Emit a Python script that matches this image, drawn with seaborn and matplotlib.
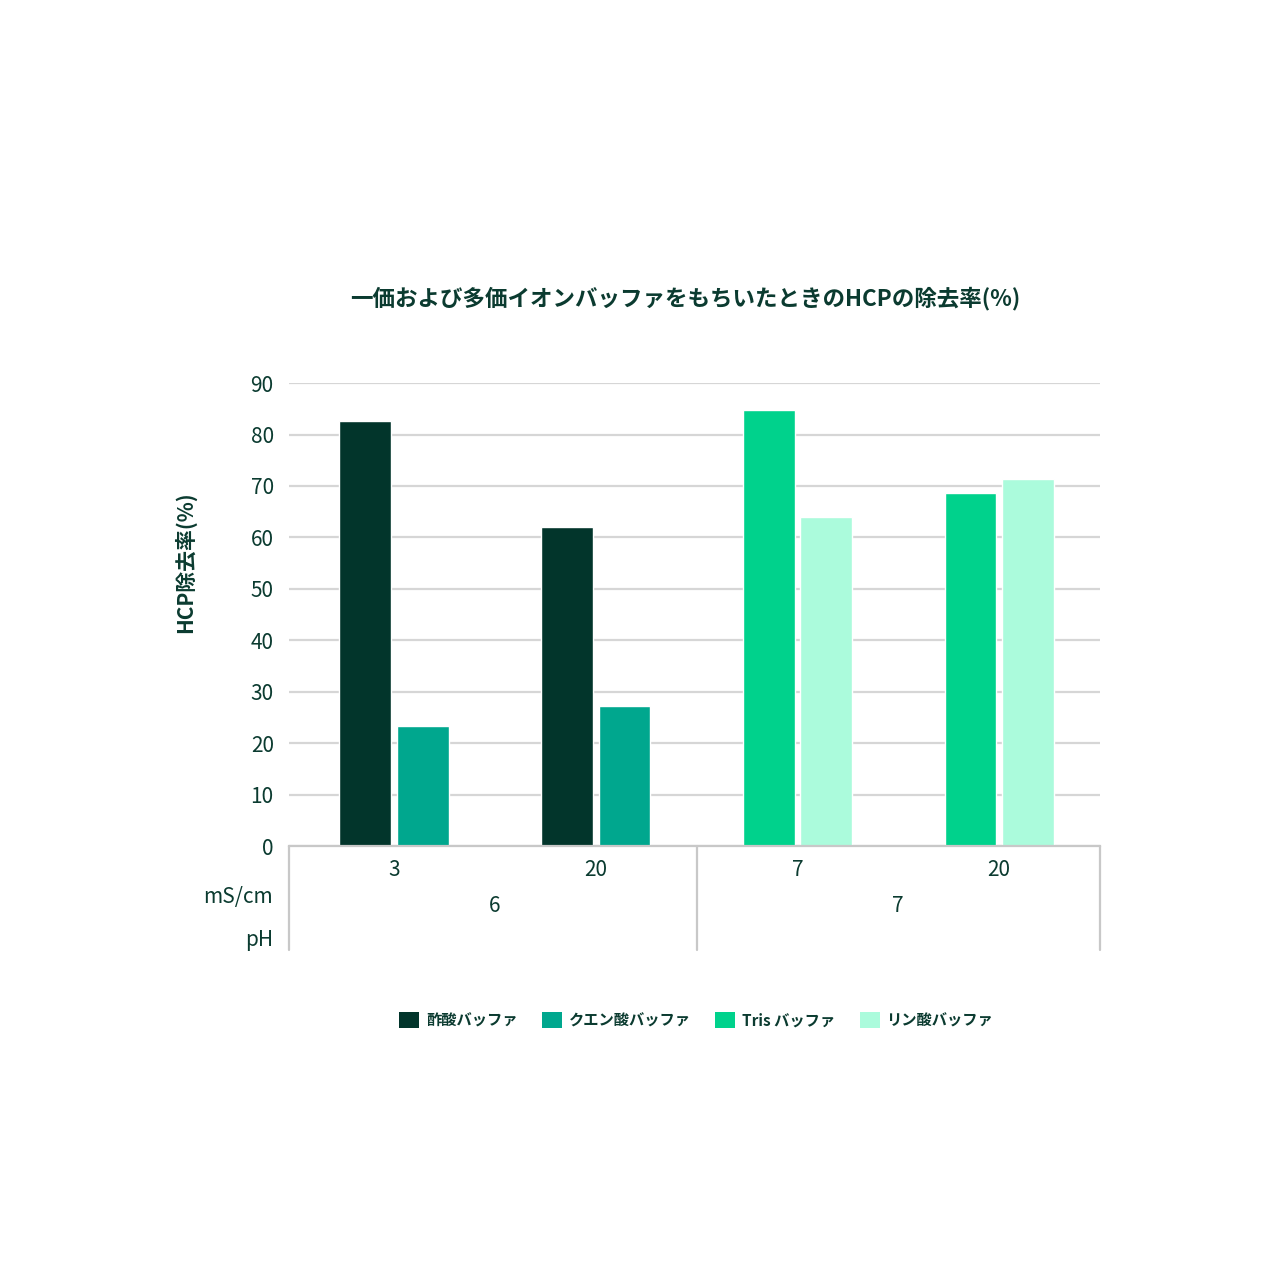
import matplotlib.pyplot as plt
import matplotlib.transforms as mtransforms
from matplotlib.patches import Patch
import pandas as pd
import seaborn as sns

# data
conditions = ["3 mS/cm pH6", "20 mS/cm pH6", "7 mS/cm pH7", "20 mS/cm pH7"]
cond_ticks = ["3", "20", "7", "20"]
ph_labels = ["6", "7"]
buffers = ["酢酸バッファ", "クエン酸バッファ", "Tris バッファ", "リン酸バッファ"]
colors = ["#02352b", "#00a78e", "#00d28c", "#abfbdc"]

acetate = [82.6, 62.0]
citrate = [23.4, 27.2]
tris = [84.7, 68.7]
phosphate = [63.9, 71.4]

text_color = "#0b3b30"
grid_color = "#d6d6d6"

sns.set_theme(style="white")
plt.rcParams['font.family'] = ['Noto Sans CJK JP', 'DejaVu Sans']
plt.rcParams['text.color'] = text_color
plt.rcParams['axes.labelcolor'] = text_color
plt.rcParams['xtick.color'] = text_color
plt.rcParams['ytick.color'] = text_color

df6 = pd.DataFrame({
    "cond": conditions[:2] * 2,
    "buffer": [buffers[0]] * 2 + [buffers[1]] * 2,
    "value": acetate + citrate,
})
df7 = pd.DataFrame({
    "cond": conditions[2:] * 2,
    "buffer": [buffers[2]] * 2 + [buffers[3]] * 2,
    "value": tris + phosphate,
})

fig = plt.figure(figsize=(12.8, 12.8), dpi=100)
ax = fig.add_axes([0.2258, 0.339, 0.6336, 0.3617])
ax.set_axisbelow(True)

sns.barplot(data=df6, x="cond", y="value", hue="buffer", order=conditions,
            hue_order=buffers[:2], palette=colors[:2], width=0.57, gap=0.1,
            saturation=1, legend=False, ax=ax)
sns.barplot(data=df7, x="cond", y="value", hue="buffer", order=conditions,
            hue_order=buffers[2:], palette=colors[2:], width=0.57, gap=0.1,
            saturation=1, legend=False, ax=ax)

ax.set_ylim(0, 90)
ax.set_xlim(-0.52, 3.5)
ax.set_yticks(range(0, 91, 10))
ax.yaxis.grid(True, color=grid_color, linewidth=1.6)
ax.xaxis.grid(False)
for side in ["top", "right", "left"]:
    ax.spines[side].set_visible(False)
ax.spines["bottom"].set_color("#c8c8c8")
ax.spines["bottom"].set_linewidth(1.6)

ax.set_xticks(range(len(conditions)))
ax.set_xticklabels(cond_ticks)
ax.tick_params(axis="x", length=0, pad=9, labelsize=15)
ax.tick_params(axis="y", length=0, pad=11, labelsize=15)
ax.set_xlabel("")
ax.set_ylabel("HCP除去率(%)", fontsize=15, fontweight="bold")
ax.yaxis.set_label_coords(-0.115, 0.613)

# second header row and row labels under the axis
trans = mtransforms.blended_transform_factory(ax.transData, ax.transAxes)
for i, lab in enumerate(ph_labels):
    ax.text(2 * i + 0.5, -0.13, lab, transform=trans, ha="center", va="center",
            fontsize=15)
ax.text(-0.02, -0.11, "mS/cm", transform=ax.transAxes, ha="right",
        va="center", fontsize=15)
ax.text(-0.02, -0.203, "pH", transform=ax.transAxes, ha="right",
        va="center", fontsize=15)
for xv in [-0.52, 1.5, 3.5]:
    ax.plot([xv, xv], [0, -0.2246], transform=trans, color="#c8c8c8",
            linewidth=1.6, clip_on=False)

fig.text(0.535, 0.767, "一価および多価イオンバッファをもちいたときのHCPの除去率(%)",
         ha="center", va="center", fontsize=16.2, fontweight="bold")

handles = [Patch(facecolor=c, edgecolor="none") for c in colors]
leg = fig.legend(handles, buffers, loc="center", bbox_to_anchor=(0.544, 0.203),
                 ncol=4, frameon=False, handlelength=1.3, handleheight=1.3,
                 handletextpad=0.45, columnspacing=1.6,
                 prop={"size": 11, "weight": "bold"})

fig.savefig("out.png", dpi=100)
